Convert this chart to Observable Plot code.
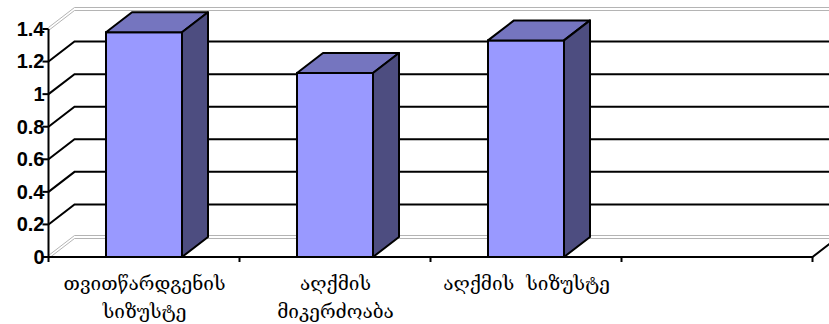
<!DOCTYPE html>
<html>
<head>
<meta charset="utf-8">
<script src="https://cdn.jsdelivr.net/npm/d3@7"></script>
<script src="https://cdn.jsdelivr.net/npm/@observablehq/plot@0.6"></script>
<style>
  body { margin: 0; background: #fff; }
  #chart g[aria-label="value ticks"] text { letter-spacing: 1px; }
</style>
</head>
<body>
<div id="chart"></div>
<script>
// Categories (the last slot of the floor is left empty), values and axis ticks
const categories = ["თვითწარდგენის\nსიზუსტე", "აღქმის\nმიკერძოაბა", "აღქმის  სიზუსტე", ""];
const values = [1.38, 1.13, 1.33, null];
const yTicks = [0, 0.2, 0.4, 0.6, 0.8, 1, 1.2, 1.4];
const yTickLabels = ["0", "0.2", "0.4", "0.6", "0.8", "1", "1.2", "1.4"];

const rows = categories.map((category, i) => ({category, value: values[i]}));
const bars = rows.filter(d => d.value != null);
const ticks = yTicks.map((value, i) => ({value, label: yTickLabels[i]}));

// oblique projection of the depth axis
const depthX = 26, depthY = -20;
const frontColor = "#9999FF", topColor = "#7575BF", sideColor = "#4D4D80";
const wallGray = "#b4b4b4";

function bandInfo(x) {
  const step = x.step(), bw = x.bandwidth();
  const left = x(categories[0]) - (step - bw) / 2;
  const right = x(categories[categories.length - 1]) + bw + (step - bw) / 2;
  return {step, bw, left, right};
}

// back wall, left wall and gridlines
function walls(index, scales, vals, dims) {
  const {x, y} = scales;
  const {left} = bandInfo(x);
  const [lo, hi] = y.domain();
  const W = dims.width;
  const g = d3.create("svg:g").attr("fill", "none");
  for (const t of yTicks) {
    const yy = y(t);
    if (t === lo || t === hi) {
      for (const off of [-1.5, 1.5]) {
        g.append("path")
          .attr("d", `M${left},${yy + off}L${left + depthX},${yy + depthY + off}L${W},${yy + depthY + off}`)
          .attr("stroke", wallGray).attr("stroke-width", 1);
      }
    } else {
      g.append("path")
        .attr("d", `M${left},${yy}L${left + depthX},${yy + depthY}L${W},${yy + depthY}`)
        .attr("stroke", "#000").attr("stroke-width", 2);
    }
  }
  return g.node();
}

// top and side faces of each column
function columnFaces(index, scales) {
  const {x, y} = scales;
  const bw = x.bandwidth();
  const g = d3.create("svg:g")
    .attr("stroke", "#000").attr("stroke-width", 2).attr("stroke-linejoin", "round");
  for (const d of bars) {
    const x0 = x(d.category), x1 = x0 + bw;
    const yv = y(d.value), yb = y(0);
    g.append("path")
      .attr("fill", topColor)
      .attr("d", `M${x0},${yv}L${x0 + depthX},${yv + depthY}L${x1 + depthX},${yv + depthY}L${x1},${yv}Z`);
    g.append("path")
      .attr("fill", sideColor)
      .attr("d", `M${x1},${yv}L${x1 + depthX},${yv + depthY}L${x1 + depthX},${yb + depthY}L${x1},${yb}Z`);
  }
  return g.node();
}

// front value axis line, its ticks, floor edge and category boundary ticks
function frontAxes(index, scales) {
  const {x, y} = scales;
  const {step, left, right} = bandInfo(x);
  const [lo, hi] = y.domain();
  const y0 = y(lo);
  const g = d3.create("svg:g").attr("fill", "none").attr("stroke", "#000").attr("stroke-width", 2);
  g.append("line").attr("x1", left).attr("x2", left).attr("y1", y(hi)).attr("y2", y0 + 5);
  for (const t of yTicks) {
    g.append("line").attr("x1", left - 6).attr("x2", left).attr("y1", y(t)).attr("y2", y(t));
  }
  g.append("path").attr("d", `M${left},${y0}L${right},${y0}L${right + depthX},${y0 + depthY}`);
  for (let i = 1; i <= categories.length; i++) {
    const bx = left + i * step;
    g.append("line").attr("x1", bx).attr("x2", bx).attr("y1", y0).attr("y2", y0 + 5);
  }
  return g.node();
}

const chart = Plot.plot({
  width: 829,
  height: 324,
  marginLeft: 49,
  marginRight: 16,
  marginTop: 29,
  marginBottom: 67,
  style: {
    background: "#fff",
    color: "#000",
    fontFamily: "'Liberation Sans', Arial, sans-serif"
  },
  x: {type: "band", domain: categories, paddingInner: 0.6, paddingOuter: 0.3, axis: null},
  y: {domain: [0, 1.4], axis: null},
  marks: [
    walls,
    Plot.barY(bars, {x: "category", y: "value", fill: frontColor, stroke: "#000", strokeWidth: 2}),
    columnFaces,
    frontAxes,
    Plot.text(ticks, {
      y: "value",
      text: "label",
      frameAnchor: "left",
      textAnchor: "end",
      dx: -5,
      fontSize: 20,
      fontWeight: "bold",
      fontFamily: "'Liberation Sans', Arial, sans-serif",
      fill: "#000",
      ariaLabel: "value ticks"
    }),
    Plot.text(rows, {
      x: "category",
      text: "category",
      frameAnchor: "bottom",
      lineAnchor: "top",
      dy: 13,
      lineHeight: 1.45,
      fontSize: 19,
      fontWeight: "normal",
      fontFamily: "'DejaVu Serif', 'DejaVu Sans', serif",
      fill: "#000"
    })
  ]
});

document.getElementById("chart").append(chart);
</script>
</body>
</html>
